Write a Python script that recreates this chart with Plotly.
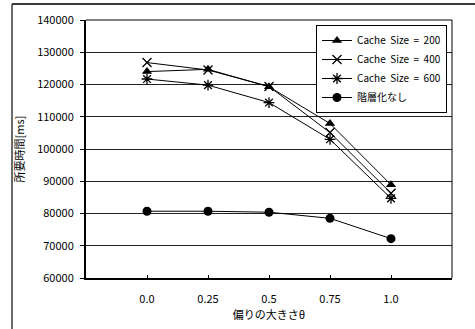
import plotly.graph_objects as go

categories = ["0.0", "0.25", "0.5", "0.75", "1.0"]
cache200 = [124000, 124700, 119300, 107900, 88900]
cache400 = [126800, 124500, 119400, 105100, 86300]
cache600 = [121700, 119800, 114400, 103000, 84700]
no_hier = [80700, 80700, 80400, 78500, 72200]
series_names = ["Cache  Size  =  200", "Cache  Size  =  400", "Cache  Size  =  600", "階層化なし"]
y_ticks = [60000, 70000, 80000, 90000, 100000, 110000, 120000, 130000, 140000]

FONT = "Noto Sans CJK JP"
W, H = 475, 329
# outer frame (paper) starts at pixel (12, 4)
ML, MT = 12, 4
PW, PH = W - ML, H - MT
# plot area pixels
L, R, T, B = 86, 452, 20, 278

def px(x):
    return (x - ML) / PW

def py(y):
    return (H - y) / PH

xpos = [1, 2, 3, 4, 5]

fig = go.Figure()
styles = [
    (cache200, dict(symbol="triangle-up", size=9, color="black")),
    (cache400, dict(symbol="x-thin-open", size=9, color="black", line=dict(width=1.3, color="black"))),
    (cache600, dict(symbol="asterisk-open", size=9, color="black", line=dict(width=1.3, color="black"))),
    (no_hier, dict(symbol="circle", size=9, color="black")),
]
for name, (vals, mk) in zip(series_names, styles):
    fig.add_trace(go.Scatter(
        x=xpos, y=vals, name=name, mode="lines+markers",
        line=dict(color="black", width=1), marker=mk,
    ))

fig.update_layout(
    template="none",
    width=W, height=H,
    margin=dict(l=ML, r=0, t=MT, b=0, pad=0, autoexpand=False),
    paper_bgcolor="white", plot_bgcolor="white",
    font=dict(family=FONT, size=11, color="black"),
    showlegend=True,
    legend=dict(
        x=px(447), y=py(25), xanchor="right", yanchor="top",
        bgcolor="white", bordercolor="black", borderwidth=1,
        font=dict(family=FONT, size=10, color="black"), tracegroupgap=0,
        itemwidth=30,
    ),
    xaxis=dict(
        domain=[px(L), px(R)],
        automargin=False,
        range=[0, 6], tickmode="array", tickvals=xpos, ticktext=categories,
        showgrid=False, zeroline=False,
        showline=True, linecolor="black", linewidth=2,
        ticks="inside", ticklen=3, tickcolor="black", tickwidth=1,
        ticklabelstandoff=10,
        title=dict(text="偏りの大きさθ", font=dict(family=FONT, size=11, color="black"), standoff=6),
    ),
    yaxis=dict(
        domain=[py(B), py(T)],
        automargin=False,
        range=[60000, 140000], tickmode="array", tickvals=y_ticks,
        ticktext=[str(v) for v in y_ticks],
        showgrid=True, gridcolor="#222", gridwidth=1, zeroline=False,
        showline=True, linecolor="black", linewidth=2,
        ticks="outside", ticklen=4, tickcolor="black", tickwidth=1,
        ticklabelstandoff=4,
        title=dict(text="所要時間[ms]", font=dict(family=FONT, size=11, color="black"), standoff=10),
    ),
    shapes=[
        # plot-area top and right borders
        dict(type="line", xref="paper", yref="paper", x0=px(L), x1=px(R), y0=py(T), y1=py(T),
             line=dict(color="black", width=1), layer="above"),
        dict(type="line", xref="paper", yref="paper", x0=px(R), x1=px(R), y0=py(B), y1=py(T),
             line=dict(color="black", width=1), layer="above"),
        # outer chart frame (top and left)
        dict(type="line", xref="paper", yref="paper", x0=0, x1=1, y0=1, y1=1,
             line=dict(color="#3a3a3a", width=2), layer="above"),
        dict(type="line", xref="paper", yref="paper", x0=0, x1=0, y0=0, y1=1,
             line=dict(color="#3a3a3a", width=1.5), layer="above"),
    ],
)

fig.write_html(
    "out.html",
    config={"displayModeBar": False},
    post_script="document.body.style.margin='0';document.body.style.padding='0';",
)
